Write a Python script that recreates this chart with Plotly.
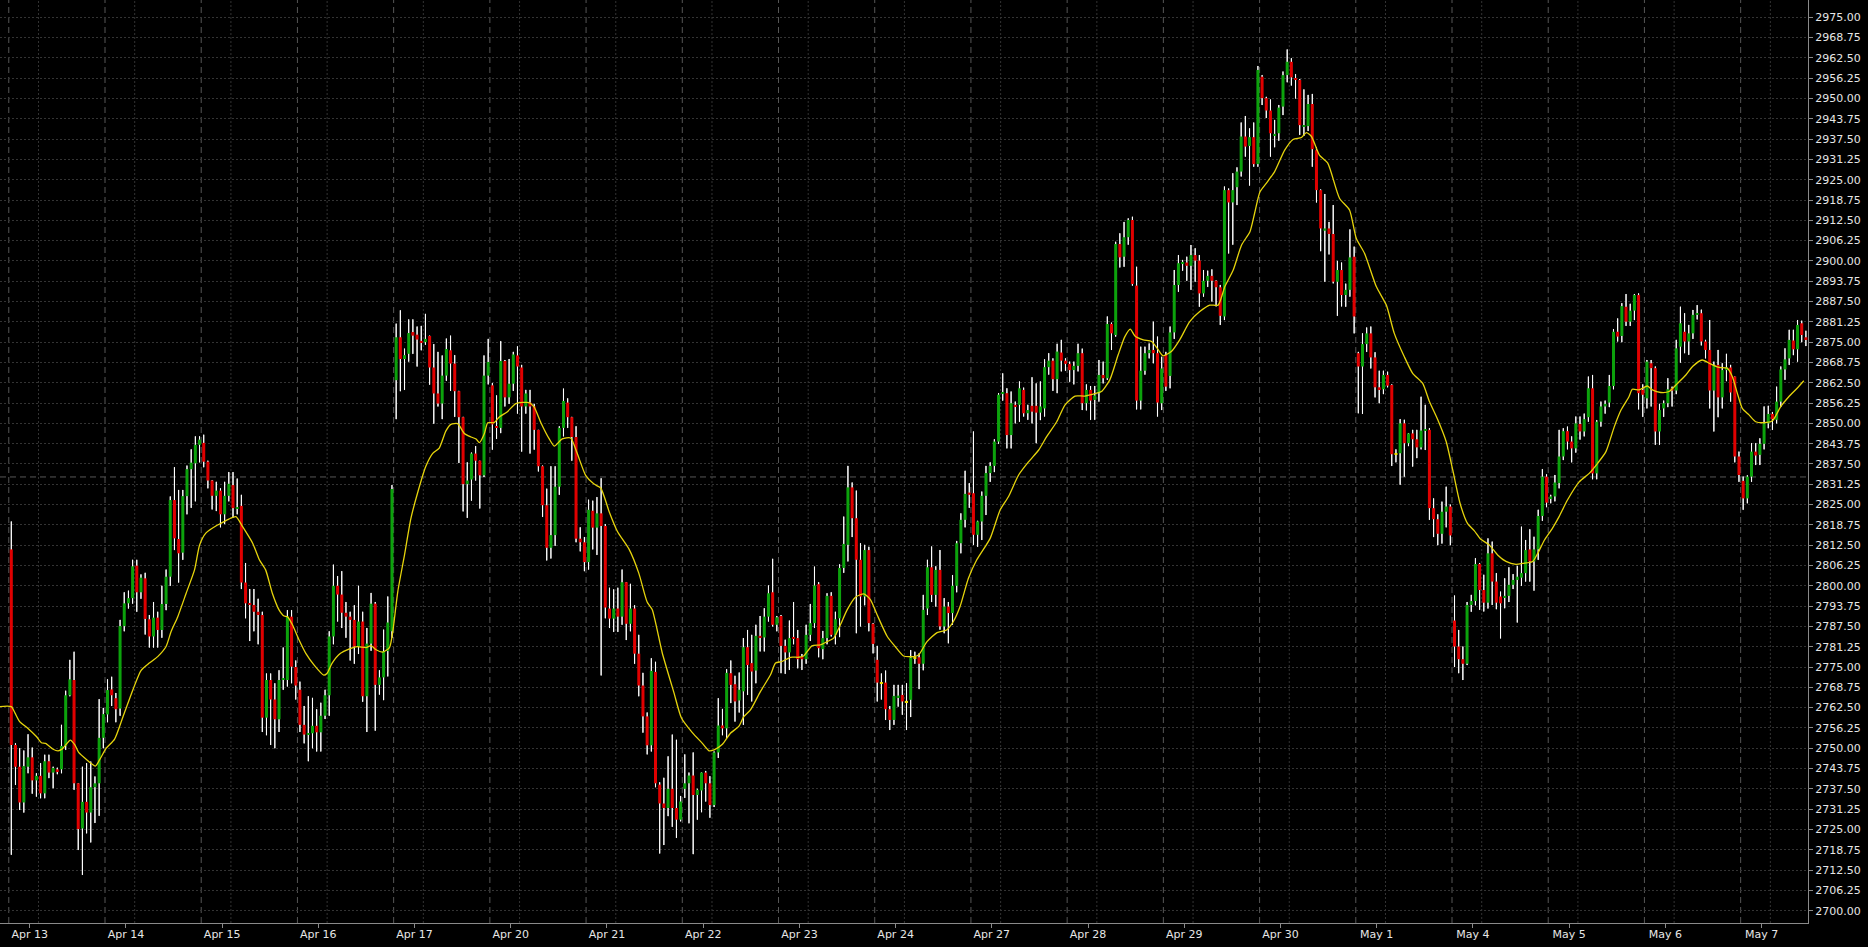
import plotly.graph_objects as go

# ---------------- data (hourly ES candles) ----------------
day_labels = ["Apr 13", "Apr 14", "Apr 15", "Apr 16", "Apr 17", "Apr 20", "Apr 21",
              "Apr 22", "Apr 23", "Apr 24", "Apr 27", "Apr 28", "Apr 29", "Apr 30",
              "May 1", "May 4", "May 5", "May 6", "May 7"]

# each row: (open, high, low, close)
apr13 = [(2811.2, 2819.8, 2717.2, 2751.0), (2751.0, 2751.5, 2738.7, 2744.3), (2744.3, 2750.0, 2731.0, 2733.3),
         (2733.3, 2749.3, 2730.2, 2744.5), (2744.3, 2754.3, 2742.3, 2747.2), (2747.2, 2750.2, 2736.0, 2740.1),
         (2740.1, 2742.3, 2735.1, 2741.5), (2741.5, 2745.4, 2734.6, 2736.1), (2736.1, 2748.0, 2734.6, 2746.0),
         (2746.0, 2748.0, 2740.8, 2742.5), (2742.5, 2744.3, 2737.7, 2743.9), (2743.5, 2744.0, 2742.0, 2742.9),
         (2743.5, 2757.2, 2742.3, 2750.7), (2750.7, 2767.7, 2749.5, 2766.3), (2766.3, 2777.2, 2766.0, 2771.2),
         (2771.0, 2779.7, 2737.2, 2739.2), (2739.2, 2739.2, 2718.7, 2725.1), (2725.3, 2744.3, 2711.0, 2733.5),
         (2733.5, 2745.4, 2723.8, 2730.2), (2730.2, 2745.9, 2721.0, 2738.0), (2738.0, 2741.3, 2727.0, 2739.2),
         (2739.2, 2765.1, 2729.2, 2753.2), (2753.2, 2762.4, 2750.0, 2760.5)]
apr14 = [(2760.4, 2771.2, 2758.0, 2767.9), (2768.1, 2772.0, 2763.0, 2766.3), (2765.4, 2767.0, 2758.0, 2762.0),
         (2762.2, 2789.5, 2760.0, 2787.6), (2787.6, 2798.0, 2786.0, 2794.6), (2794.6, 2798.5, 2793.0, 2796.2),
         (2796.2, 2808.0, 2794.5, 2806.0), (2806.2, 2808.0, 2792.0, 2798.0), (2798.0, 2803.5, 2796.0, 2802.5),
         (2802.3, 2804.0, 2785.0, 2789.8), (2789.7, 2791.0, 2781.0, 2784.4), (2784.4, 2795.0, 2781.0, 2790.2),
         (2790.2, 2792.0, 2781.0, 2786.4), (2786.4, 2800.0, 2784.0, 2794.4), (2794.4, 2805.0, 2792.5, 2802.8),
         (2802.8, 2827.5, 2800.0, 2826.4), (2826.4, 2836.5, 2811.0, 2814.6), (2814.4, 2829.5, 2801.0, 2810.0),
         (2810.2, 2829.5, 2808.0, 2827.6), (2827.6, 2837.0, 2822.0, 2835.9), (2835.9, 2842.0, 2824.0, 2837.9),
         (2837.7, 2846.0, 2826.0, 2843.4), (2843.4, 2846.0, 2838.0, 2845.0)]
apr15 = [(2844.0, 2846.5, 2836.5, 2838.2), (2838.2, 2838.5, 2830.0, 2832.4), (2832.4, 2832.5, 2823.5, 2827.7),
         (2827.7, 2832.0, 2823.0, 2829.3), (2829.3, 2830.0, 2818.0, 2822.0), (2822.0, 2832.0, 2819.0, 2827.7),
         (2827.7, 2835.0, 2826.0, 2831.4), (2831.0, 2835.0, 2821.0, 2823.9), (2823.9, 2833.0, 2822.0, 2824.2),
         (2824.6, 2828.0, 2799.0, 2801.0), (2801.0, 2807.0, 2790.0, 2794.6), (2794.6, 2799.0, 2783.0, 2794.1),
         (2794.1, 2799.0, 2786.0, 2792.0), (2792.0, 2796.0, 2782.0, 2791.0), (2791.0, 2792.0, 2755.0, 2759.4),
         (2759.4, 2773.0, 2754.0, 2771.0), (2771.0, 2773.0, 2751.0, 2765.0), (2765.0, 2770.0, 2750.0, 2758.9),
         (2758.9, 2774.0, 2755.0, 2771.0), (2771.0, 2781.0, 2768.0, 2771.5), (2771.0, 2792.5, 2769.0, 2790.5),
         (2790.5, 2792.5, 2770.0, 2775.1), (2775.0, 2777.0, 2765.0, 2769.3)]
apr16 = [(2768.0, 2770.5, 2755.0, 2757.2), (2757.2, 2763.0, 2751.5, 2754.2), (2754.2, 2766.0, 2746.0, 2754.6),
         (2754.6, 2765.5, 2750.0, 2756.9), (2756.9, 2762.0, 2749.0, 2754.9), (2754.9, 2764.0, 2749.0, 2760.0),
         (2760.0, 2768.0, 2759.0, 2766.3), (2766.3, 2786.0, 2760.0, 2784.4), (2784.4, 2806.5, 2782.0, 2800.0),
         (2800.0, 2803.0, 2789.0, 2797.3), (2797.3, 2804.5, 2787.0, 2791.7), (2791.7, 2795.0, 2784.0, 2790.5),
         (2790.5, 2792.0, 2777.0, 2789.5), (2789.5, 2794.0, 2776.0, 2781.3), (2781.3, 2800.0, 2779.0, 2789.0),
         (2789.0, 2792.0, 2764.3, 2766.0), (2766.0, 2787.0, 2755.0, 2782.2), (2782.2, 2797.8, 2780.0, 2794.5),
         (2794.5, 2795.0, 2755.4, 2769.5), (2769.5, 2774.0, 2766.5, 2771.8), (2771.8, 2786.5, 2764.8, 2779.9),
         (2779.9, 2796.7, 2772.1, 2788.7), (2786.0, 2831.0, 2784.0, 2829.8)]
apr17 = [(2863.3, 2880.7, 2851.3, 2876.5), (2876.5, 2884.8, 2859.9, 2869.8), (2869.8, 2873.0, 2860.3, 2871.0),
         (2871.4, 2882.0, 2869.0, 2877.8), (2878.1, 2882.0, 2871.4, 2877.0), (2877.3, 2879.8, 2867.5, 2875.8),
         (2875.4, 2880.0, 2872.5, 2875.0), (2875.0, 2883.7, 2874.2, 2876.0), (2876.9, 2877.0, 2861.9, 2867.2),
         (2867.2, 2874.4, 2849.9, 2859.2), (2859.2, 2872.0, 2855.2, 2856.1), (2856.1, 2870.9, 2851.3, 2864.7),
         (2864.7, 2876.1, 2863.1, 2872.9), (2872.5, 2877.0, 2860.0, 2868.4), (2868.4, 2871.0, 2852.0, 2859.9),
         (2859.9, 2860.0, 2837.8, 2851.9), (2851.9, 2852.0, 2822.9, 2831.3), (2831.3, 2838.0, 2820.9, 2832.4),
         (2832.7, 2841.0, 2826.2, 2840.7), (2840.7, 2843.0, 2832.4, 2838.5), (2838.5, 2838.5, 2823.8, 2834.0),
         (2834.0, 2870.9, 2833.5, 2864.7), (2864.7, 2876.0, 2862.0, 2868.9)]
apr20 = [(2861.7, 2862.4, 2841.9, 2849.7), (2849.1, 2858.6, 2845.2, 2848.6), (2848.6, 2875.3, 2847.0, 2869.2),
         (2869.2, 2869.5, 2855.2, 2858.0), (2858.0, 2869.8, 2856.0, 2862.2), (2862.2, 2872.0, 2860.0, 2871.2),
         (2870.9, 2873.7, 2853.0, 2867.5), (2867.2, 2868.0, 2841.3, 2855.2), (2855.2, 2860.3, 2853.0, 2859.2),
         (2856.4, 2860.3, 2840.7, 2855.2), (2855.2, 2856.0, 2841.9, 2848.0), (2848.0, 2848.0, 2835.2, 2836.8),
         (2836.8, 2837.0, 2821.2, 2824.8), (2824.8, 2829.9, 2807.8, 2811.7), (2811.7, 2836.8, 2808.4, 2815.6),
         (2815.6, 2836.8, 2812.3, 2830.5), (2830.5, 2849.1, 2828.0, 2848.6), (2848.6, 2860.7, 2846.0, 2856.9),
         (2856.4, 2857.7, 2848.6, 2851.9), (2851.9, 2852.0, 2838.5, 2845.8), (2845.8, 2849.1, 2813.4, 2814.5),
         (2814.5, 2818.0, 2810.6, 2813.4), (2813.4, 2815.0, 2804.5, 2807.3)]
apr21 = [(2807.3, 2826.5, 2805.0, 2823.4), (2823.1, 2826.2, 2811.2, 2817.9), (2817.9, 2827.3, 2809.5, 2822.3),
         (2822.3, 2833.1, 2772.4, 2818.4), (2818.4, 2819.0, 2790.0, 2793.3), (2793.0, 2799.4, 2787.0, 2789.9),
         (2789.9, 2798.9, 2785.8, 2793.0), (2793.0, 2799.4, 2785.8, 2790.5), (2790.5, 2805.0, 2788.0, 2801.1),
         (2801.1, 2801.1, 2783.3, 2788.3), (2788.3, 2800.6, 2786.0, 2793.0), (2793.0, 2794.0, 2776.0, 2779.1),
         (2779.1, 2784.9, 2766.0, 2769.3), (2769.3, 2773.2, 2754.8, 2759.8), (2759.8, 2761.0, 2748.1, 2750.9),
         (2750.9, 2777.7, 2749.0, 2773.8), (2773.5, 2776.6, 2738.0, 2739.2), (2738.8, 2739.5, 2717.6, 2733.0),
         (2733.0, 2740.9, 2720.2, 2731.6), (2731.6, 2747.5, 2729.1, 2737.5), (2737.5, 2754.2, 2725.8, 2731.6),
         (2731.6, 2752.6, 2722.4, 2728.0), (2728.0, 2735.3, 2727.5, 2733.6)]
apr22 = [(2737.5, 2748.1, 2734.7, 2739.2), (2739.2, 2742.5, 2726.9, 2741.6), (2741.6, 2748.7, 2717.4, 2735.6),
         (2735.6, 2737.5, 2728.0, 2737.2), (2737.0, 2742.5, 2730.3, 2742.5), (2742.5, 2743.0, 2733.6, 2739.2),
         (2739.2, 2741.4, 2728.6, 2732.5), (2732.5, 2749.0, 2731.9, 2748.7), (2748.7, 2765.4, 2747.0, 2757.0),
         (2757.0, 2762.1, 2754.0, 2756.1), (2756.1, 2774.3, 2753.2, 2773.2), (2773.1, 2777.0, 2763.9, 2769.5),
         (2769.7, 2772.3, 2758.2, 2764.4), (2764.7, 2773.3, 2761.0, 2768.0), (2767.5, 2783.9, 2757.2, 2781.1),
         (2781.1, 2786.4, 2766.4, 2775.6), (2776.2, 2784.9, 2764.4, 2773.6), (2773.9, 2788.0, 2770.0, 2784.6),
         (2784.6, 2790.7, 2779.8, 2784.2), (2784.1, 2793.1, 2779.8, 2790.5), (2790.5, 2800.1, 2789.0, 2797.7),
         (2798.0, 2808.3, 2787.5, 2788.0), (2788.0, 2790.7, 2786.0, 2790.3)]
apr23 = [(2790.7, 2791.0, 2773.1, 2781.5), (2781.5, 2783.4, 2772.9, 2779.5), (2779.5, 2789.3, 2774.1, 2783.9),
         (2784.2, 2795.0, 2782.0, 2783.9), (2783.9, 2786.4, 2774.6, 2777.4), (2778.2, 2779.0, 2774.1, 2777.4),
         (2777.4, 2788.0, 2776.0, 2784.9), (2784.9, 2794.4, 2783.0, 2788.5), (2788.5, 2805.9, 2787.0, 2800.1),
         (2800.5, 2801.1, 2778.0, 2780.8), (2780.5, 2786.1, 2777.4, 2783.9), (2783.9, 2797.7, 2782.0, 2796.9),
         (2796.9, 2798.0, 2784.4, 2784.9), (2784.9, 2792.0, 2782.0, 2789.7), (2790.0, 2806.6, 2784.2, 2805.5),
         (2805.5, 2821.3, 2804.0, 2812.9), (2812.6, 2836.9, 2807.5, 2830.3), (2830.3, 2831.8, 2815.0, 2820.8),
         (2820.8, 2829.3, 2785.4, 2808.0), (2808.0, 2813.1, 2787.5, 2796.7), (2796.7, 2812.6, 2794.0, 2811.0),
         (2811.0, 2812.0, 2786.0, 2788.5), (2788.3, 2788.5, 2779.2, 2782.1)]
apr24 = [(2777.2, 2781.5, 2764.4, 2770.2), (2770.2, 2773.0, 2765.0, 2770.2), (2770.2, 2773.9, 2758.7, 2762.0),
         (2762.0, 2763.0, 2755.6, 2758.7), (2758.7, 2769.5, 2757.2, 2766.1), (2765.7, 2769.5, 2762.8, 2766.2),
         (2766.4, 2769.5, 2760.3, 2764.4), (2764.4, 2770.0, 2755.6, 2764.4), (2764.9, 2780.2, 2759.6, 2777.9),
         (2777.9, 2779.7, 2776.0, 2777.9), (2778.0, 2779.2, 2768.2, 2776.0), (2776.0, 2797.2, 2774.0, 2792.6),
         (2793.0, 2808.0, 2791.0, 2805.7), (2805.7, 2812.1, 2795.0, 2797.2), (2797.2, 2806.0, 2793.6, 2804.9),
         (2804.9, 2811.0, 2786.5, 2787.5), (2787.5, 2796.2, 2785.4, 2793.6), (2793.6, 2795.0, 2782.3, 2791.6),
         (2791.6, 2803.3, 2788.0, 2800.0), (2800.0, 2813.8, 2798.0, 2813.1), (2813.1, 2822.3, 2810.0, 2820.3),
         (2820.3, 2835.4, 2818.0, 2828.3), (2828.7, 2831.6, 2824.0, 2828.0)]
apr27 = [(2828.5, 2847.5, 2812.6, 2815.7), (2815.7, 2820.0, 2812.0, 2819.8), (2819.8, 2829.0, 2814.1, 2827.7),
         (2827.7, 2836.9, 2821.8, 2834.7), (2834.7, 2838.0, 2832.0, 2836.9), (2836.9, 2845.1, 2835.0, 2844.4),
         (2844.4, 2859.3, 2843.7, 2858.8), (2859.1, 2865.4, 2857.0, 2859.5), (2859.3, 2860.8, 2842.3, 2846.4),
         (2846.4, 2859.8, 2842.3, 2856.2), (2855.7, 2856.7, 2850.0, 2855.2), (2855.7, 2862.9, 2850.5, 2860.8),
         (2860.3, 2861.0, 2852.1, 2853.1), (2853.1, 2855.7, 2851.1, 2854.1), (2855.4, 2864.2, 2850.0, 2853.6),
         (2855.4, 2862.3, 2843.9, 2853.3), (2853.3, 2862.9, 2851.0, 2855.2), (2854.6, 2869.7, 2852.1, 2867.3),
         (2867.3, 2871.6, 2865.0, 2869.3), (2869.3, 2870.0, 2860.0, 2863.6), (2863.6, 2874.5, 2859.3, 2872.1),
         (2871.8, 2875.7, 2866.0, 2869.3), (2869.3, 2870.0, 2866.2, 2868.3)]
apr28 = [(2868.3, 2869.0, 2862.8, 2866.4), (2866.4, 2869.0, 2862.0, 2867.7), (2867.7, 2874.5, 2866.0, 2871.6),
         (2871.6, 2873.0, 2854.1, 2856.2), (2856.2, 2862.0, 2854.0, 2860.3), (2860.3, 2861.5, 2851.1, 2857.0),
         (2857.2, 2861.5, 2851.1, 2858.6), (2859.3, 2869.5, 2856.7, 2864.9), (2864.9, 2869.0, 2862.3, 2863.9),
         (2863.9, 2882.9, 2863.4, 2880.6), (2880.6, 2881.0, 2872.6, 2877.7), (2877.2, 2905.9, 2876.7, 2905.2),
         (2905.2, 2908.5, 2898.0, 2901.1), (2901.3, 2912.0, 2898.2, 2907.3), (2907.3, 2913.1, 2905.0, 2912.6),
         (2912.6, 2913.6, 2892.4, 2892.9), (2892.4, 2898.2, 2854.3, 2857.0), (2857.0, 2873.6, 2854.3, 2866.2),
         (2866.2, 2873.6, 2865.0, 2871.6), (2871.6, 2874.6, 2870.0, 2872.6), (2872.6, 2881.3, 2868.5, 2871.6),
         (2871.6, 2876.7, 2852.1, 2856.4), (2856.2, 2870.5, 2854.1, 2866.9)]
apr29 = [(2871.0, 2872.0, 2860.0, 2861.3), (2864.6, 2879.8, 2860.8, 2878.0), (2878.0, 2897.2, 2876.0, 2892.6),
         (2892.6, 2901.8, 2890.5, 2899.3), (2899.1, 2900.3, 2897.0, 2899.5), (2899.5, 2901.3, 2893.9, 2898.5),
         (2898.5, 2904.9, 2891.1, 2901.8), (2901.8, 2903.9, 2893.6, 2900.1), (2900.1, 2901.8, 2885.9, 2890.0),
         (2890.0, 2897.2, 2889.0, 2893.9), (2893.9, 2897.0, 2892.0, 2895.4), (2895.4, 2897.4, 2887.5, 2893.9),
         (2893.9, 2894.0, 2886.0, 2891.9), (2891.9, 2892.6, 2880.3, 2883.1), (2882.9, 2922.9, 2881.8, 2921.8),
         (2921.8, 2922.3, 2902.3, 2918.0), (2918.0, 2927.0, 2905.0, 2921.8), (2922.7, 2928.8, 2917.2, 2927.5),
         (2927.5, 2942.6, 2926.0, 2938.3), (2938.3, 2944.6, 2932.1, 2935.2), (2935.4, 2940.8, 2923.2, 2938.1),
         (2938.1, 2942.6, 2929.0, 2929.8), (2929.8, 2960.0, 2929.0, 2958.8)]
apr30 = [(2956.7, 2957.2, 2948.0, 2950.1), (2950.1, 2950.5, 2944.0, 2946.3), (2946.3, 2949.7, 2932.1, 2939.3),
         (2938.5, 2943.4, 2935.0, 2939.1), (2939.3, 2948.0, 2937.0, 2947.2), (2947.5, 2958.3, 2944.9, 2957.2),
         (2957.2, 2965.1, 2955.0, 2961.3), (2961.3, 2962.4, 2954.0, 2956.5), (2956.2, 2957.5, 2950.0, 2955.7),
         (2955.7, 2956.0, 2938.8, 2941.8), (2941.3, 2952.8, 2938.5, 2941.8), (2941.5, 2951.1, 2940.0, 2948.3),
         (2948.3, 2951.4, 2929.0, 2934.4), (2934.1, 2935.0, 2918.0, 2921.8), (2921.8, 2922.0, 2903.0, 2910.0),
         (2909.3, 2920.6, 2893.6, 2910.0), (2910.0, 2912.0, 2902.0, 2908.3), (2908.3, 2917.2, 2893.1, 2893.6),
         (2893.6, 2900.0, 2883.1, 2897.2), (2897.2, 2899.5, 2886.0, 2889.5), (2889.5, 2893.0, 2885.9, 2891.1),
         (2891.1, 2909.7, 2889.0, 2901.1), (2901.3, 2904.4, 2877.7, 2882.9)]
may1 = [(2871.6, 2872.0, 2853.1, 2867.5), (2867.5, 2877.7, 2852.9, 2874.4), (2874.4, 2879.5, 2872.0, 2877.7),
        (2877.7, 2879.8, 2866.9, 2870.3), (2870.3, 2871.9, 2858.0, 2861.1), (2861.1, 2866.2, 2856.2, 2860.5),
        (2860.5, 2866.2, 2859.0, 2864.9), (2864.9, 2865.9, 2861.1, 2861.6), (2861.8, 2862.0, 2836.9, 2840.5),
        (2840.5, 2842.0, 2838.0, 2840.5), (2840.8, 2851.3, 2831.1, 2850.0), (2850.0, 2851.1, 2833.6, 2843.9),
        (2843.9, 2847.0, 2843.0, 2846.9), (2846.9, 2848.0, 2836.7, 2845.1), (2845.1, 2848.0, 2839.3, 2842.6),
        (2842.6, 2858.2, 2842.0, 2847.8), (2847.8, 2855.7, 2841.8, 2848.2), (2848.0, 2848.5, 2820.3, 2823.9),
        (2823.9, 2826.9, 2815.0, 2820.5), (2820.5, 2822.0, 2812.5, 2816.0), (2816.0, 2825.9, 2813.0, 2822.8),
        (2822.8, 2830.5, 2818.0, 2824.4), (2824.4, 2825.0, 2812.5, 2815.5)]
may4 = [(2789.3, 2797.0, 2775.0, 2781.3), (2781.3, 2786.4, 2773.1, 2777.4), (2777.4, 2781.3, 2771.0, 2776.0),
        (2776.0, 2795.0, 2775.6, 2794.1), (2794.1, 2797.2, 2792.0, 2795.3), (2795.3, 2808.5, 2794.0, 2806.7),
        (2806.7, 2807.0, 2792.6, 2798.7), (2798.7, 2803.4, 2792.1, 2794.8), (2794.8, 2814.6, 2793.0, 2810.0),
        (2810.0, 2813.6, 2794.1, 2801.3), (2801.3, 2803.9, 2792.8, 2794.8), (2796.7, 2798.2, 2783.8, 2794.6),
        (2796.5, 2802.3, 2793.1, 2796.9), (2796.9, 2805.7, 2795.0, 2800.3), (2800.3, 2803.6, 2799.0, 2801.8),
        (2801.8, 2806.1, 2788.7, 2802.8), (2802.5, 2818.2, 2800.0, 2803.9), (2803.9, 2814.1, 2801.3, 2811.0),
        (2811.2, 2817.4, 2801.3, 2807.5), (2807.5, 2815.1, 2798.5, 2811.2), (2811.2, 2823.4, 2808.0, 2821.5),
        (2821.5, 2835.9, 2820.0, 2833.6), (2833.6, 2834.3, 2824.2, 2825.6)]
may5 = [(2826.9, 2828.0, 2825.4, 2827.5), (2827.5, 2834.1, 2826.0, 2831.8), (2831.6, 2848.0, 2830.0, 2839.8),
        (2839.8, 2848.5, 2838.7, 2847.6), (2847.6, 2849.0, 2842.0, 2844.4), (2844.4, 2846.0, 2838.0, 2842.3),
        (2842.3, 2852.1, 2841.0, 2850.0), (2849.8, 2852.1, 2845.0, 2847.5), (2847.5, 2853.0, 2846.0, 2851.3),
        (2851.9, 2864.4, 2850.5, 2860.8), (2860.8, 2864.9, 2832.8, 2834.6), (2834.6, 2851.0, 2832.8, 2850.5),
        (2850.5, 2856.7, 2849.0, 2855.2), (2855.2, 2857.0, 2853.0, 2856.0), (2856.4, 2864.9, 2855.0, 2861.5),
        (2861.5, 2879.0, 2860.5, 2878.2), (2878.2, 2882.3, 2875.2, 2876.7), (2876.9, 2887.0, 2875.0, 2886.1),
        (2885.9, 2889.8, 2880.0, 2881.3), (2881.3, 2886.8, 2880.0, 2884.7), (2884.7, 2889.8, 2881.8, 2889.5),
        (2889.5, 2890.0, 2854.3, 2859.3), (2860.3, 2862.0, 2852.0, 2858.8)]
may6 = [(2857.7, 2869.5, 2854.6, 2869.0), (2868.5, 2869.5, 2855.2, 2867.0), (2867.0, 2867.5, 2843.4, 2847.5),
        (2847.5, 2856.0, 2843.4, 2854.1), (2854.6, 2857.0, 2852.0, 2856.2), (2856.2, 2863.9, 2855.0, 2860.5),
        (2860.8, 2861.3, 2855.2, 2860.1), (2860.1, 2875.7, 2859.0, 2873.1), (2873.6, 2885.9, 2868.7, 2880.8),
        (2878.2, 2883.9, 2871.6, 2875.2), (2875.2, 2880.3, 2871.1, 2877.7), (2877.7, 2884.9, 2876.0, 2883.4),
        (2883.4, 2886.4, 2882.0, 2883.9), (2883.9, 2885.0, 2874.0, 2875.2), (2875.2, 2875.7, 2870.0, 2872.6),
        (2872.6, 2881.8, 2854.6, 2860.1), (2860.1, 2869.0, 2847.5, 2868.0), (2868.0, 2872.6, 2851.9, 2858.0),
        (2858.0, 2868.5, 2854.6, 2866.4), (2866.4, 2871.4, 2863.0, 2867.2), (2867.2, 2868.0, 2856.7, 2859.5),
        (2864.4, 2864.4, 2838.0, 2839.8), (2839.8, 2841.3, 2832.0, 2834.1)]
may7 = [(2832.3, 2833.6, 2823.4, 2826.9), (2826.9, 2834.0, 2825.4, 2833.6), (2833.6, 2843.9, 2832.0, 2841.3),
        (2841.3, 2843.9, 2837.2, 2840.1), (2840.3, 2845.4, 2837.2, 2843.7), (2843.7, 2855.2, 2842.0, 2850.0),
        (2850.0, 2855.4, 2848.5, 2852.9), (2852.9, 2853.5, 2848.0, 2851.3), (2851.1, 2861.3, 2850.0, 2856.7),
        (2856.7, 2867.5, 2855.0, 2866.6), (2866.6, 2873.1, 2863.4, 2869.7), (2870.0, 2878.8, 2868.0, 2875.7),
        (2875.5, 2878.8, 2871.0, 2872.8), (2872.8, 2881.8, 2869.0, 2880.3), (2880.8, 2881.6, 2875.0, 2877.2),
        (2876.5, 2878.5, 2873.8, 2875.9)]

sessions = [apr13, apr14, apr15, apr16, apr17, apr20, apr21, apr22, apr23, apr24,
            apr27, apr28, apr29, apr30, may1, may4, may5, may6, may7]

# moving average (yellow line): bar position, value
ma_index = [-3, 0, 0.9, 2, 4, 6, 7.2, 8.2, 10, 11.2, 12.2, 13.2, 14.1, 15.2, 16.1, 18.1, 20.1, 21.1, 22.7,
            24.7, 26.7, 29.1, 31, 33, 35, 37, 38.2, 39.8, 41.8, 43.8, 45, 46.5, 48.9, 50.1, 52.1, 53.7,
            55.3, 57.7, 59.3, 60.8, 62.4, 64, 65.2, 66, 67.2, 68.8, 70.4, 72.4, 74.7, 75.5, 76.7, 78.7,
            80.7, 82.7, 84.8, 86, 87.2, 88.8, 90.4, 91.2, 92.4, 94, 95.5, 97.1, 99.1, 100.7, 102.3, 103.9,
            105.1, 106.7, 108.3, 109.9, 111.1, 111.9, 113.1, 113.9, 115.4, 116.6, 118.6, 120.6, 123.8,
            125, 126.6, 128.6, 129.8, 131.7, 133.7, 135.3, 137.3, 139.3, 140.9, 142.9, 144.9, 147.7, 150,
            152, 153.2, 155.6, 158.4, 160.2, 162.8, 165.2, 166.8, 168, 170, 171.9, 173.9, 175.1, 176.7,
            179.1, 181.5, 182.7, 184.2, 186.3, 188.2, 189.4, 191.4, 193.4, 195, 196.6, 198.2, 199.8,
            201.8, 203.8, 205.4, 207, 209.4, 211.3, 213.3, 215.7, 216.9, 218.9, 221.3, 223.6, 225.2,
            226.8, 228.8, 230.8, 234, 236.4, 238.4, 240.8, 243.2, 245.6, 247.5, 249.9, 251.9, 254.3,
            256.6, 259.4, 260.6, 262.6, 264.6, 266.2, 267.5, 268.6, 270.6, 272.6, 274.2, 275.3, 277.3,
            279.3, 281.7, 284.1, 286.5, 288.5, 290.1, 292.1, 294.1, 296.1, 297.2, 298.5, 300, 302, 304.4,
            306.4, 308.4, 309.6, 310.8, 312.7, 314.7, 317.5, 319.9, 321.5, 323.5, 326.3, 328.7, 330.6,
            333, 335, 337.4, 339, 341, 343, 344.6, 346.3, 348.1, 349.7, 351.3, 353.3, 355.3, 357.3,
            359.7, 361.3, 363.7, 364.9, 366.5, 368.4, 370, 372, 374.8, 377.2, 379.2, 381.2, 383.2,
            384.8, 386.7, 387.5, 389.1, 391.1, 392.3, 394.3, 396.3, 398.3, 400.3, 401.9, 404.2, 406.2,
            408.2, 410.2, 411.4, 412.6, 413.8, 415.4, 417, 419, 421, 423, 424.9, 426.9, 428.5]
ma_value = [2762.8, 2762.8, 2760.8, 2758.2, 2756.1, 2753.6, 2751.7, 2751.5, 2749.7, 2749.2, 2749.8, 2751.3,
            2752.5, 2751.0, 2748.7, 2746.4, 2744.5, 2746.4, 2750.0, 2752.8, 2759.7, 2768.1, 2773.9, 2776.2,
            2778.2, 2781.3, 2785.9, 2790.5, 2797.7, 2804.9, 2812.5, 2816.2, 2818.4, 2819.2, 2820.6, 2821.3,
            2818.2, 2813.1, 2808.0, 2804.9, 2797.7, 2792.6, 2790.7, 2790.5, 2788.0, 2783.3, 2779.2, 2775.6,
            2772.5, 2773.1, 2776.2, 2779.2, 2780.5, 2781.3, 2781.0, 2781.6, 2780.3, 2779.6, 2781.0, 2786.0,
            2798.3, 2809.5, 2820.6, 2828.5, 2836.8, 2840.7, 2842.4, 2847.7, 2849.7, 2849.9, 2846.9, 2845.8,
            2845.2, 2844.1, 2846.9, 2850.2, 2850.2, 2851.9, 2853.6, 2856.1, 2856.4, 2855.0, 2850.2, 2845.2,
            2843.0, 2845.2, 2845.5, 2840.7, 2834.0, 2831.3, 2830.1, 2822.9, 2816.7, 2811.2, 2803.9, 2795.0,
            2792.7, 2779.4, 2767.1, 2759.3, 2754.8, 2751.5, 2749.2, 2749.5, 2751.2, 2754.6, 2756.7, 2759.7,
            2761.8, 2767.5, 2772.6, 2776.2, 2776.7, 2778.0, 2778.0, 2778.4, 2781.5, 2781.8, 2782.8, 2783.9,
            2788.0, 2792.6, 2796.5, 2797.5, 2795.7, 2791.0, 2784.4, 2781.3, 2778.4, 2778.2, 2778.7, 2782.8,
            2785.6, 2786.4, 2789.0, 2793.6, 2802.3, 2808.0, 2814.6, 2823.4, 2827.5, 2834.1, 2838.2, 2841.8,
            2845.9, 2850.5, 2855.7, 2858.4, 2858.4, 2859.3, 2859.8, 2863.4, 2871.1, 2876.7, 2879.0, 2876.9,
            2875.7, 2875.2, 2872.6, 2870.8, 2872.1, 2875.7, 2881.3, 2884.4, 2886.4, 2886.4, 2892.1, 2897.2,
            2904.9, 2909.0, 2914.6, 2921.3, 2923.9, 2927.5, 2934.1, 2937.4, 2938.0, 2939.5, 2938.3, 2932.6,
            2930.1, 2919.3, 2915.7, 2907.0, 2902.3, 2892.1, 2886.4, 2877.7, 2870.5, 2865.4, 2862.3, 2856.7,
            2851.1, 2844.4, 2835.5, 2825.5, 2819.2, 2817.0, 2814.3, 2812.6, 2809.5, 2807.5, 2806.6, 2806.9,
            2807.5, 2810.0, 2814.1, 2817.7, 2821.3, 2826.4, 2832.0, 2834.6, 2837.7, 2841.3, 2849.0, 2854.1,
            2858.2, 2860.5, 2860.3, 2861.5, 2860.3, 2859.5, 2859.8, 2862.3, 2864.9, 2867.5, 2869.5, 2868.3,
            2867.2, 2867.0, 2864.4, 2859.3, 2854.6, 2852.6, 2850.5, 2850.2, 2850.8, 2855.2, 2858.2, 2860.8,
            2863.1]

ref_price = 2833.5          # dashed horizontal reference line
bars_per_session = 23

# ---------------- build ----------------
opens, highs, lows, closes = [], [], [], []
for s in sessions:
    for (o, h, l, c) in s:
        opens.append(o); highs.append(max(h, o, c)); lows.append(min(l, o, c)); closes.append(c)
n = len(opens)
idx = list(range(n))

UP, DOWN, DOJI = "#0ca20c", "#e00000", "#f0e000"

# wicks: near-zero-width bars stroked with a 1px white outline (crisp 1px lines),
# kept in the bar layer so the bodies drawn afterwards sit on top of them
wick_base = lows
wick_len = [highs[i] - lows[i] for i in idx]

base, hgt, cols = [], [], []
for i in idx:
    o, c = opens[i], closes[i]
    if abs(c - o) < 0.2:
        cols.append(DOJI); base.append(o - 0.18); hgt.append(0.36)
    else:
        cols.append(UP if c > o else DOWN)
        lo, hi = min(o, c), max(o, c)
        if hi - lo < 0.4:
            mid = (hi + lo) / 2; lo, hi = mid - 0.2, mid + 0.2
        base.append(lo); hgt.append(hi - lo)

fig = go.Figure()
fig.add_trace(go.Bar(x=idx, y=wick_len, base=wick_base, width=0.02,
                     marker=dict(color="#ffffff", line=dict(width=1, color="#ffffff")),
                     showlegend=False, hoverinfo="skip"))
fig.add_trace(go.Bar(x=idx, y=hgt, base=base, width=0.72,
                     marker=dict(color=cols, line=dict(width=0)),
                     showlegend=False, hoverinfo="skip"))
fig.add_trace(go.Scatter(x=ma_index, y=ma_value, mode="lines",
                         line=dict(color="#e6d40c", width=1.3, shape="spline", smoothing=0.6),
                         hoverinfo="skip", showlegend=False))

shapes = []
n_days = len(day_labels)
for k in range(n_days):
    start = k * bars_per_session
    shapes.append(dict(type="line", xref="x", yref="paper", x0=start - 0.6, x1=start - 0.6, y0=0, y1=1,
                       line=dict(color="#565656", width=1, dash="6px,4px"), layer="below"))
    shapes.append(dict(type="line", xref="x", yref="paper", x0=start + 6.5, x1=start + 6.5, y0=0, y1=1,
                       line=dict(color="#333333", width=1, dash="2px,2px"), layer="below"))
shapes.append(dict(type="line", xref="paper", yref="y", x0=0, x1=1, y0=ref_price, y1=ref_price,
                   line=dict(color="#565656", width=1, dash="6px,4px"), layer="below"))

tick_pos = [k * bars_per_session + 4.4 for k in range(n_days)]

fig.update_layout(
    width=1868, height=947, autosize=False,
    margin=dict(l=0, r=60, t=0, b=24, pad=0),
    paper_bgcolor="#000000", plot_bgcolor="#000000",
    barmode="overlay", showlegend=False, shapes=shapes,
    font=dict(family="DejaVu Sans", size=11, color="#e6e6e6"),
    xaxis=dict(range=[-2.70, 429.5], showgrid=False, zeroline=False,
               tickmode="array", tickvals=tick_pos, ticktext=day_labels,
               ticks="outside", ticklen=4, tickcolor="#8a8a8a", ticklabelstandoff=-3,
               showline=True, linecolor="#8a8a8a", linewidth=1,
               tickfont=dict(family="DejaVu Sans", size=11, color="#e6e6e6")),
    yaxis=dict(side="right", range=[2696.2, 2980.32], tick0=2700, dtick=6.25, tickformat=".2f",
               showgrid=True, gridcolor="#333333", griddash="2px,2px", gridwidth=1,
               zeroline=False, ticks="outside", ticklen=4, tickcolor="#8a8a8a",
               showline=True, linecolor="#8a8a8a", linewidth=1,
               tickfont=dict(family="DejaVu Sans", size=11, color="#e6e6e6")),
)

fig.write_html("out.html", config={"displayModeBar": False},
               post_script="document.body.style.margin='0';document.body.style.overflow='hidden';")
